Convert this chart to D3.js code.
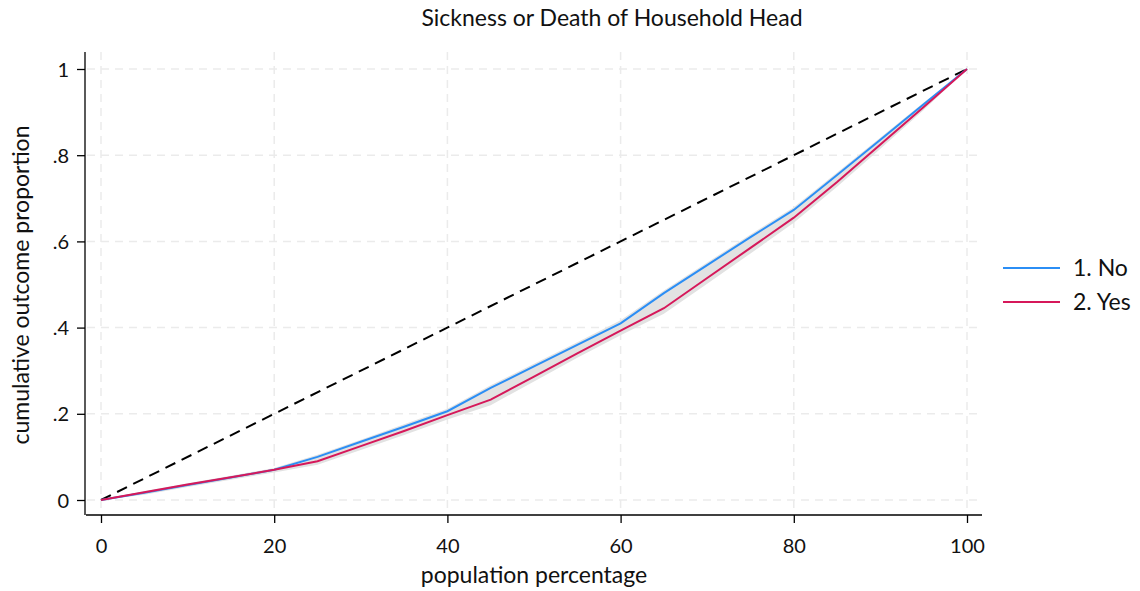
<!DOCTYPE html>
<html><head><meta charset="utf-8">
<script src="https://cdn.jsdelivr.net/npm/d3@7"></script>
<style>body{margin:0;background:#fff}text{font-family:Lato,"Open Sans",sans-serif;fill:#111}</style>
</head><body><svg id="c" width="1140" height="591"></svg>
<script>
const pop = [0,5,10,15,20,25,30,35,40,45,50,55,60,65,70,75,80,85,90,95,100];
const seriesNo  = [0,.017,.035,.052,.07,.10,.135,.17,.206,.26,.31,.36,.41,.48,.545,.61,.673,.754,.836,.918,1];
const seriesYes = [0,.018,.036,.053,.07,.09,.125,.16,.197,.233,.286,.34,.393,.445,.515,.585,.655,.738,.825,.912,1];
const ciLow  = [0,.012,.03,.047,.064,.082,.116,.151,.187,.22,.275,.33,.382,.432,.502,.572,.643,.727,.815,.905,1];
const ciHigh = [0,.021,.039,.056,.074,.105,.14,.176,.212,.266,.316,.366,.417,.486,.551,.616,.679,.76,.841,.922,1];
const xTicks = [0,20,40,60,80,100];
const yTicks = [0,.2,.4,.6,.8,1];
const yTickLabels = ["0",".2",".4",".6",".8","1"];
const legendLabels = ["1. No","2. Yes"];
const colors = ["#2b8ef5","#d6185a"];

const svg = d3.select("#c");
const x = d3.scaleLinear().domain([0,100]).range([101,967]);
const y = d3.scaleLinear().domain([0,1]).range([500,69]);

// grid
svg.append("g").selectAll("line").data(yTicks).join("line")
  .attr("x1",87).attr("x2",982).attr("y1",d=>y(d)).attr("y2",d=>y(d))
  .attr("stroke","#ebebeb").attr("stroke-width",1.5).attr("stroke-dasharray","8,6");
svg.append("g").selectAll("line").data(xTicks).join("line")
  .attr("y1",52).attr("y2",514).attr("x1",d=>x(d)).attr("x2",d=>x(d))
  .attr("stroke","#ebebeb").attr("stroke-width",1.5).attr("stroke-dasharray","8,6");

// CI band
const band = d3.area().x((d,i)=>x(pop[i])).y0((d,i)=>y(ciLow[i])).y1((d,i)=>y(ciHigh[i]));
svg.append("path").datum(pop).attr("d",band).attr("fill","#e2e2e2");

// diagonal
svg.append("path").datum([0,100])
  .attr("d",d3.line().x(d=>x(d)).y(d=>y(d/100)))
  .attr("stroke","#000").attr("stroke-width",2).attr("stroke-dasharray","11,7").attr("fill","none");

const line = vals => d3.line().x((d,i)=>x(pop[i])).y((d,i)=>y(vals[i]))(pop);
svg.append("path").attr("d",line(seriesNo)).attr("stroke",colors[0]).attr("stroke-width",2).attr("fill","none");
svg.append("path").attr("d",line(seriesYes)).attr("stroke",colors[1]).attr("stroke-width",2).attr("fill","none");

// axes
const xa = svg.append("g").attr("transform","translate(0,515)")
  .call(d3.axisBottom(x).tickValues(xTicks).tickSize(8).tickPadding(16).tickSizeOuter(0));
xa.select(".domain").attr("d","M86,0H982").attr("stroke","#000").attr("stroke-width",1.3);
const ya = svg.append("g").attr("transform","translate(85,0)")
  .call(d3.axisLeft(y).tickValues(yTicks).tickFormat((d,i)=>yTickLabels[i]).tickSize(8).tickPadding(8).tickSizeOuter(0));
ya.select(".domain").attr("d","M0,52V515").attr("stroke","#000").attr("stroke-width",1.3);
svg.selectAll(".tick text").style("font-size","20px").style("font-family","Lato, sans-serif").attr("fill","#111");
svg.selectAll(".tick line").attr("stroke","#000").attr("stroke-width",1.3);
ya.selectAll(".tick text").attr("dy","0.35em");

// titles
svg.append("text").attr("x",612).attr("y",26).attr("text-anchor","middle").style("font-size","23px").text("Sickness or Death of Household Head");
svg.append("text").attr("x",534).attr("y",583).attr("text-anchor","middle").style("font-size","23px").text("population percentage");
svg.append("text").attr("transform","translate(29,285) rotate(-90)").attr("text-anchor","middle").style("font-size","23px").text("cumulative outcome proportion");

// legend
const lg = svg.append("g").selectAll("g").data(legendLabels).join("g")
  .attr("transform",(d,i)=>`translate(1003,${268+i*34})`);
lg.append("line").attr("x1",0).attr("x2",57).attr("stroke",(d,i)=>colors[i]).attr("stroke-width",2);
lg.append("text").attr("x",70).attr("dy","0.35em").style("font-size","23px").text(d=>d);
</script></body></html>
